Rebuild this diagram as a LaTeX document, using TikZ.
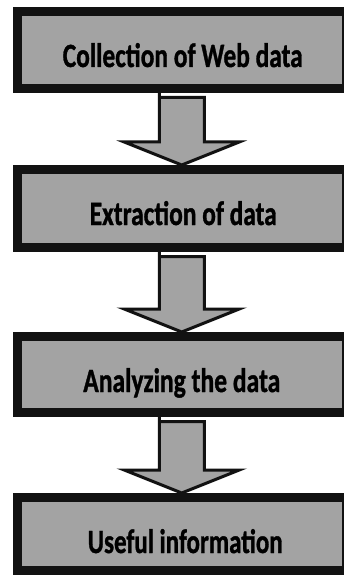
\documentclass[tikz,border=0pt]{standalone}
\usepackage{fontspec}
\setmainfont{Carlito}
\newfontfamily\heavyfont{Carlito Bold}[FakeBold=1.2]
\usetikzlibrary{calc}
\definecolor{boxfill}{gray}{0.64}
\definecolor{boxline}{gray}{0.07}
\newcommand\steptext[2]{\resizebox{#1}{\height}{\fontsize{34}{34}\selectfont\heavyfont #2}}
\tikzset{
  stepbox/.style={draw=boxline, line width=9pt, fill=boxfill, rectangle,
    inner sep=0pt, minimum width=328.5pt},
  steplabel/.style={anchor=base, inner sep=0pt, text=black},
  blockarr/.style={draw=boxline, line width=3pt, fill=boxfill, line join=miter},
}
\newcommand\blockarrow[2]{%
  \path (#1.south) coordinate (#1s) (#2.north) coordinate (#2n);
  \draw[blockarr]
    ($(#1s)+(-22.5,4.5)$) -- ($(#1s -| #2n)+(-22.5,0)$) |- ($(#2n)+(-57.5,-23)$)
    -- (#2n) -- ($(#2n)+(57.5,-23)$) -| ($(#1s)+(22.5,4.5)$) -- cycle;
}
\begin{document}
\begin{tikzpicture}[x=1pt,y=-1pt]
\useasboundingbox (0,0) rectangle (344,580);
\node[stepbox, minimum height=77pt] (b1) at (181.75,50) {};
\node[stepbox, minimum height=78pt] (b2) at (181.75,208.5) {};
\node[stepbox, minimum height=76pt] (b3) at (181.75,374.5) {};
\node[stepbox, minimum height=73pt] (b4) at (181.75,534) {};
\node[steplabel] (t1) at ($(b1.center)+(1,17)$) {\steptext{240pt}{Collection of Web data}};
\node[steplabel] (t2) at ($(b2.center)+(1.5,16.5)$) {\steptext{187pt}{Extraction of data}};
\node[steplabel] (t3) at ($(b3.center)+(0,17.5)$) {\steptext{197pt}{Analyzing the data}};
\node[steplabel] (t4) at ($(b4.center)+(3.5,19)$) {\steptext{195pt}{Useful information}};
\blockarrow{b1}{b2}
\blockarrow{b2}{b3}
\blockarrow{b3}{b4}
\end{tikzpicture}
\end{document}
